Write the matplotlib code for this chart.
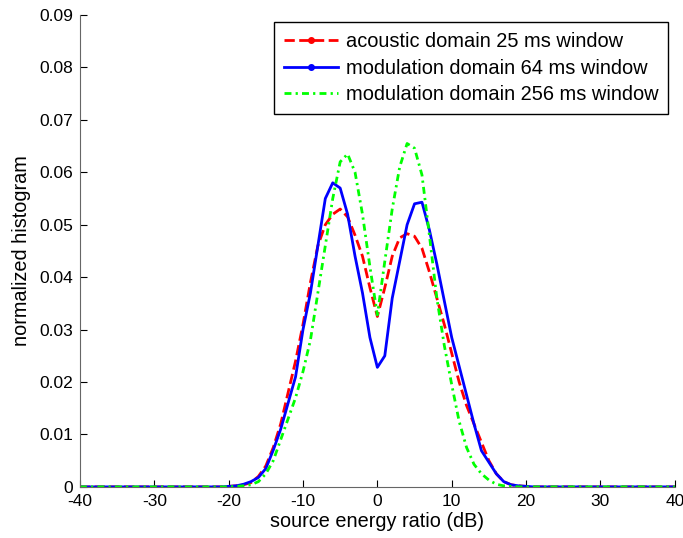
import numpy as np
import matplotlib
matplotlib.use("Agg")
import matplotlib.pyplot as plt
from matplotlib.lines import Line2D

plt.rcParams['font.family'] = ['Liberation Sans', 'DejaVu Sans']
plt.rcParams['axes.unicode_minus'] = False

# histogram bins (dB)
ratio_db = np.arange(-40, 41)

# values for bins -20 .. 20, everything else is ~0
acoustic_25 = [0.0001, 0.0002, 0.0004, 0.0008, 0.002, 0.004, 0.0075, 0.012, 0.018, 0.024,
               0.031, 0.039, 0.046, 0.050, 0.052, 0.053, 0.0515, 0.048, 0.044, 0.038,
               0.0325,
               0.038, 0.044, 0.0475, 0.0483, 0.0478, 0.0455, 0.041, 0.036, 0.031, 0.0255,
               0.020, 0.0155, 0.012, 0.0085, 0.005, 0.0025, 0.001, 0.0004, 0.0002, 0.0001]
modulation_64 = [0.0001, 0.0002, 0.0005, 0.001, 0.0018, 0.0035, 0.007, 0.011, 0.016, 0.021,
                 0.030, 0.037, 0.046, 0.055, 0.058, 0.057, 0.052, 0.044, 0.037, 0.0285,
                 0.0228,
                 0.025, 0.036, 0.043, 0.050, 0.054, 0.0543, 0.049, 0.0425, 0.0355, 0.0285,
                 0.023, 0.0175, 0.012, 0.0069, 0.0047, 0.0025, 0.001, 0.0004, 0.0002, 0.0001]
modulation_256 = [0.0, 0.0001, 0.0002, 0.0004, 0.001, 0.0025, 0.005, 0.009, 0.013, 0.017,
                  0.022, 0.028, 0.037, 0.046, 0.055, 0.062, 0.0635, 0.060, 0.052, 0.042,
                  0.0328,
                  0.043, 0.053, 0.061, 0.0655, 0.0646, 0.0595, 0.048, 0.036, 0.027, 0.0195,
                  0.0125, 0.0075, 0.0043, 0.0025, 0.0013, 0.0005, 0.0002, 0.0001, 0.0, 0.0]

labels = ["acoustic domain 25 ms window",
          "modulation domain 64 ms window",
          "modulation domain 256 ms window"]


def full(core):
    y = np.zeros(len(ratio_db))
    y[(ratio_db >= -20) & (ratio_db <= 20)] = core
    return y


red, blue, green = "#ff0000", "#0000ff", "#00ff00"
dashdot = (0, (2.5, 1.5, 0.8, 1.5))

fig = plt.figure(figsize=(6.83, 5.38), dpi=100)
ax = fig.add_axes([0.117, 0.095, 0.871, 0.877])

ax.plot(ratio_db, full(acoustic_25), color=red, ls="--", lw=2)
ax.plot(ratio_db, full(modulation_64), color=blue, ls="-", lw=2)
ax.plot(ratio_db, full(modulation_256), color=green, ls=dashdot, lw=2)

ax.set_xlim(-40, 40)
ax.set_ylim(0, 0.09)
ax.set_xticks(np.arange(-40, 41, 10))
ax.set_yticks(np.arange(0, 0.091, 0.01))
ax.set_yticklabels(["0"] + ["%.2f" % v for v in np.arange(0.01, 0.091, 0.01)])
ax.tick_params(direction="in", labelsize=12.5, length=5, colors="#000000")
ax.tick_params(axis="y", pad=5)
ax.tick_params(axis="x", pad=5)
ax.spines["top"].set_visible(False)
ax.spines["right"].set_visible(False)
for s in ("left", "bottom"):
    ax.spines[s].set_color("#666666")
ax.set_xlabel("source energy ratio (dB)", fontsize=14.3, labelpad=2)
ax.set_ylabel("normalized histogram", fontsize=14.3, labelpad=6)

handles = [
    Line2D([], [], color=red, ls="--", lw=2, marker=".", markersize=8),
    Line2D([], [], color=blue, ls="-", lw=2, marker=".", markersize=8),
    Line2D([], [], color=green, ls=dashdot, lw=2),
]
leg = ax.legend(handles, labels, loc="upper right", bbox_to_anchor=(0.989, 0.985),
                fontsize=14.4, fancybox=False, edgecolor="black", framealpha=1,
                borderaxespad=0, borderpad=0.5, handlelength=2.7, handletextpad=0.4,
                labelspacing=0.38, numpoints=1)
leg.get_frame().set_linewidth(1.0)

fig.savefig("out.png", dpi=100)
